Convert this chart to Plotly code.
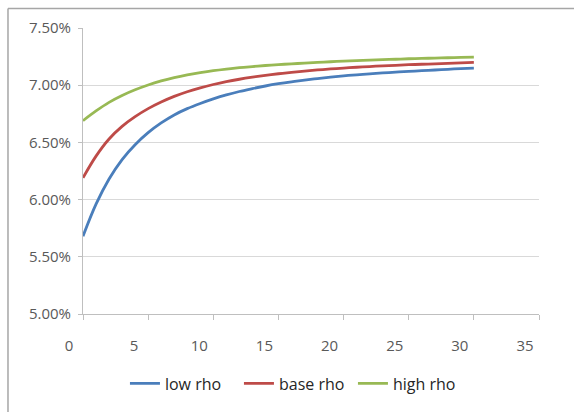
import plotly.graph_objects as go

# Maturity (years) and yields (%) for three rho scenarios
maturity = list(range(0, 31))
low_rho = [5.68, 5.96, 6.18, 6.35, 6.48, 6.585, 6.67, 6.74, 6.795, 6.84, 6.88,
           6.915, 6.945, 6.97, 6.993, 7.013, 7.03, 7.045, 7.058, 7.071, 7.082,
           7.091, 7.099, 7.107, 7.114, 7.121, 7.127, 7.133, 7.139, 7.145, 7.150]
base_rho = [6.19, 6.38, 6.53, 6.64, 6.725, 6.795, 6.853, 6.902, 6.943, 6.977, 7.006,
            7.031, 7.052, 7.070, 7.086, 7.10, 7.112, 7.123, 7.133, 7.142, 7.150,
            7.157, 7.163, 7.169, 7.174, 7.179, 7.183, 7.187, 7.191, 7.195, 7.199]
high_rho = [6.69, 6.775, 6.85, 6.91, 6.96, 7.002, 7.037, 7.066, 7.09, 7.11, 7.127,
            7.141, 7.153, 7.163, 7.172, 7.18, 7.187, 7.193, 7.199, 7.205, 7.21,
            7.215, 7.219, 7.223, 7.227, 7.231, 7.234, 7.237, 7.240, 7.243, 7.246]

series_names = ["low rho", "base rho", "high rho"]
series_colors = ["#4A7EBB", "#BE4B48", "#98B954"]
x_ticks = [0, 5, 10, 15, 20, 25, 30, 35]
y_ticks = [5.0, 5.5, 6.0, 6.5, 7.0, 7.5]

FONT = "Open Sans, Arial, sans-serif"
TEXT_COLOR = "#595959"
GRID = "#D9D9D9"

fig = go.Figure()
for name, vals, color in zip(series_names, [low_rho, base_rho, high_rho], series_colors):
    fig.add_trace(go.Scatter(
        x=maturity,
        y=[v / 100 for v in vals],
        mode="lines",
        name=name,
        line=dict(color=color, width=2.8, shape="spline", smoothing=1.0),
    ))

fig.update_layout(
    width=574,
    height=412,
    margin=dict(l=83, r=35, t=28, b=92),
    paper_bgcolor="white",
    plot_bgcolor="white",
    font=dict(family=FONT, size=15, color=TEXT_COLOR),
    showlegend=True,
    legend=dict(
        orientation="h",
        x=0.092, xanchor="left",
        y=-0.243, yanchor="middle",
        font=dict(family=FONT, size=16, color="#262626"),
        itemwidth=30,
        entrywidth=69,
        bgcolor="rgba(0,0,0,0)",
    ),
    xaxis=dict(
        range=[0, 35],
        tickvals=x_ticks,
        ticktext=[str(t) for t in x_ticks],
        showgrid=False,
        zeroline=False,
        showline=True,
        linecolor="#BFBFBF",
        linewidth=1,
        ticks="outside",
        ticklen=5,
        tickcolor="#BFBFBF",
        ticklabelstandoff=13,
        ticklabelshift=-14,
        tickfont=dict(family=FONT, size=15, color=TEXT_COLOR),
        fixedrange=True,
    ),
    yaxis=dict(
        range=[0.05, 0.075],
        tickvals=[t / 100 for t in y_ticks],
        tickformat=".2%",
        showgrid=True,
        gridcolor=GRID,
        gridwidth=1,
        zeroline=False,
        showline=True,
        linecolor="#BFBFBF",
        linewidth=1,
        ticks="outside",
        ticklen=4,
        tickcolor="#BFBFBF",
        ticklabelstandoff=4,
        tickfont=dict(family=FONT, size=15, color=TEXT_COLOR),
        fixedrange=True,
    ),
    shapes=[
        # chart frame: top and left edges
        dict(type="line", xref="paper", yref="paper",
             x0=-0.1645, x1=1.3, y0=1.0685, y1=1.0685,
             line=dict(color="#A6A6A6", width=1.5)),
        dict(type="line", xref="paper", yref="paper",
             x0=-0.1645, x1=-0.1645, y0=1.0685, y1=-0.5,
             line=dict(color="#A6A6A6", width=1.5)),
    ],
)

fig.write_html("out.html")
